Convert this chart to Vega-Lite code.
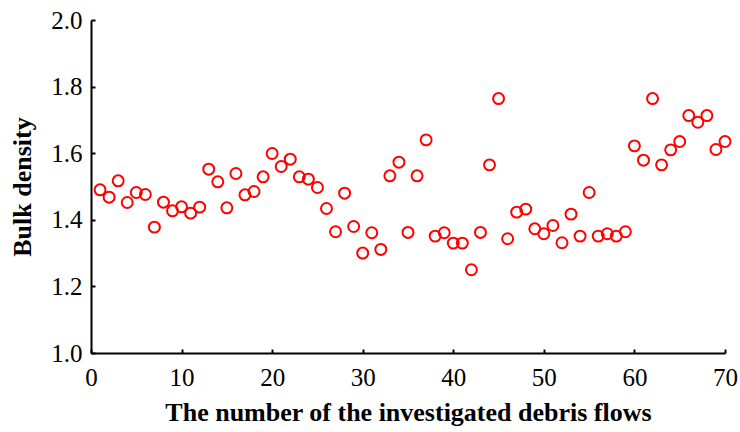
{
  "$schema": "https://vega.github.io/schema/vega-lite/v6.json",
  "width": 634,
  "height": 333,
  "autosize": {"type": "none"},
  "padding": {"left": 91, "top": 20, "right": 15, "bottom": 79},
  "background": "white",
  "config": {
    "view": {"stroke": null},
    "font": "Liberation Serif",
    "axis": {
      "grid": false,
      "domainColor": "black",
      "domainWidth": 2,
      "tickColor": "black",
      "tickWidth": 2,
      "tickSize": -4,
      "labelFont": "Liberation Serif",
      "labelFontSize": 25,
      "labelColor": "black",
      "titleFont": "Liberation Serif",
      "titleFontSize": 26,
      "titleFontWeight": "bold",
      "titleColor": "black"
    }
  },
  "data": {
    "values": [
      {"n": 1, "d": 1.49}, {"n": 2, "d": 1.468}, {"n": 3, "d": 1.517}, {"n": 4, "d": 1.452},
      {"n": 5, "d": 1.482}, {"n": 6, "d": 1.476}, {"n": 7, "d": 1.378}, {"n": 8, "d": 1.453},
      {"n": 9, "d": 1.427}, {"n": 10, "d": 1.439}, {"n": 11, "d": 1.42}, {"n": 12, "d": 1.438},
      {"n": 13, "d": 1.552}, {"n": 14, "d": 1.514}, {"n": 15, "d": 1.436}, {"n": 16, "d": 1.539},
      {"n": 17, "d": 1.475}, {"n": 18, "d": 1.485}, {"n": 19, "d": 1.529}, {"n": 20, "d": 1.599},
      {"n": 21, "d": 1.56}, {"n": 22, "d": 1.582}, {"n": 23, "d": 1.529}, {"n": 24, "d": 1.522},
      {"n": 25, "d": 1.497}, {"n": 26, "d": 1.434}, {"n": 27, "d": 1.364}, {"n": 28, "d": 1.48},
      {"n": 29, "d": 1.38}, {"n": 30, "d": 1.3}, {"n": 31, "d": 1.361}, {"n": 32, "d": 1.311},
      {"n": 33, "d": 1.532}, {"n": 34, "d": 1.573}, {"n": 35, "d": 1.362}, {"n": 36, "d": 1.532},
      {"n": 37, "d": 1.64}, {"n": 38, "d": 1.351}, {"n": 39, "d": 1.361}, {"n": 40, "d": 1.33},
      {"n": 41, "d": 1.33}, {"n": 42, "d": 1.25}, {"n": 43, "d": 1.362}, {"n": 44, "d": 1.565},
      {"n": 45, "d": 1.764}, {"n": 46, "d": 1.343}, {"n": 47, "d": 1.423}, {"n": 48, "d": 1.432},
      {"n": 49, "d": 1.373}, {"n": 50, "d": 1.358}, {"n": 51, "d": 1.383}, {"n": 52, "d": 1.331},
      {"n": 53, "d": 1.417}, {"n": 54, "d": 1.351}, {"n": 55, "d": 1.482}, {"n": 56, "d": 1.351},
      {"n": 57, "d": 1.358}, {"n": 58, "d": 1.351}, {"n": 59, "d": 1.364}, {"n": 60, "d": 1.622},
      {"n": 61, "d": 1.579}, {"n": 62, "d": 1.764}, {"n": 63, "d": 1.565}, {"n": 64, "d": 1.61},
      {"n": 65, "d": 1.635}, {"n": 66, "d": 1.713}, {"n": 67, "d": 1.693}, {"n": 68, "d": 1.713},
      {"n": 69, "d": 1.611}, {"n": 70, "d": 1.635}
    ]
  },
  "mark": {"type": "point", "shape": "circle", "filled": false, "color": "#ff0000", "strokeWidth": 2, "size": 120, "opacity": 1},
  "encoding": {
    "x": {
      "field": "n", "type": "quantitative",
      "scale": {"domain": [0, 70], "nice": false, "zero": false},
      "axis": {"title": "The number of the investigated debris flows", "values": [0, 10, 20, 30, 40, 50, 60, 70], "labelPadding": 16, "titlePadding": 9, "labelFlush": false}
    },
    "y": {
      "field": "d", "type": "quantitative",
      "scale": {"domain": [1.0, 2.0], "nice": false, "zero": false},
      "axis": {"title": "Bulk density", "values": [1.0, 1.2, 1.4, 1.6, 1.8, 2.0], "format": ".1f", "labelPadding": 13, "titlePadding": 15, "labelFlush": false}
    }
  }
}
